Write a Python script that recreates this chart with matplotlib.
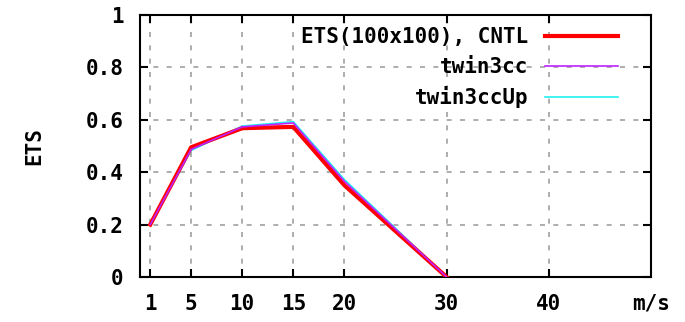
import matplotlib
matplotlib.use("Agg")
import matplotlib.pyplot as plt

x = [1, 5, 10, 15, 20, 30]
cntl = [0.20, 0.495, 0.568, 0.573, 0.350, 0.0]
twin3cc = [0.20, 0.487, 0.573, 0.588, 0.365, 0.0]
twin3ccUp = [0.20, 0.483, 0.576, 0.593, 0.372, 0.0]
xticks = [1, 5, 10, 15, 20, 30, 40]
yticks = [0, 0.2, 0.4, 0.6, 0.8, 1]
ytick_labels = ["0", "0.2", "0.4", "0.6", "0.8", "1"]
labels = ["ETS(100x100), CNTL", "twin3cc", "twin3ccUp"]

font = {"family": "DejaVu Sans Mono", "weight": "bold", "size": 15}

fig = plt.figure(figsize=(6.85, 3.22), dpi=100)
ax = fig.add_axes([140/685, 45/322, 511/685, 262/322])

l1, = ax.plot(x, cntl, color="#ff0000", lw=3.0, zorder=3)
l2, = ax.plot(x, twin3cc, color="#c020ff", lw=1.2, zorder=4)
l3, = ax.plot(x, twin3ccUp, color="#20f0f0", lw=1.2, zorder=2)

ax.set_xlim(0, 50)
ax.set_ylim(0, 1)
ax.set_xticks(xticks + [50])
ax.set_xticklabels([str(v) for v in xticks] + ["m/s"], fontdict=font)
ax.set_yticks(yticks)
ax.set_yticklabels(ytick_labels, fontdict=font)
ax.tick_params(direction="in", top=True, right=True, length=6, width=1.5, pad=12)
ax.xaxis.get_major_ticks()[-1].tick1line.set_visible(False)
ax.xaxis.get_major_ticks()[-1].tick2line.set_visible(False)
ax.xaxis.get_major_ticks()[-1].gridline.set_visible(False)
ax.grid(True, color="#a0a0a0", linestyle=(0, (3, 5)), lw=1.2)
for s in ax.spines.values():
    s.set_linewidth(1.5)
ax.set_ylabel("ETS", fontdict=font, labelpad=30)

leg = ax.legend([l1, l2, l3], labels, loc="upper right", frameon=False,
                prop={"family": "DejaVu Sans Mono", "weight": "bold", "size": 15},
                markerfirst=False, handlelength=3.5, labelspacing=0.45,
                bbox_to_anchor=(0.96, 1.0), borderaxespad=0.2, handletextpad=0.8)
for t in leg.get_texts():
    t.set_ha("right")
leg._legend_box.align = "right"

fig.savefig("out.png", dpi=100)
